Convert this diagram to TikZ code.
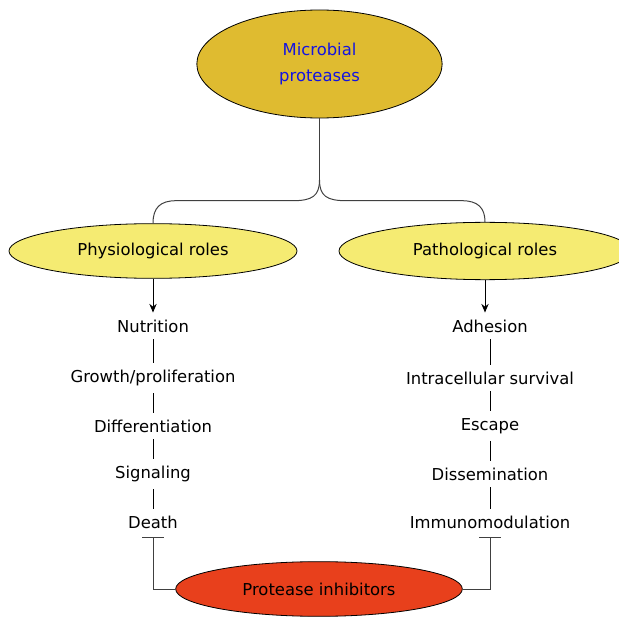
\documentclass[tikz,border=0pt]{standalone}
\usepackage{fontspec}
\setmainfont{DejaVu Sans}
\usepackage{xcolor}
\usepackage{tikz}
\usetikzlibrary{shapes,positioning,arrows.meta}
\definecolor{gold}{HTML}{DFBB30}
\definecolor{lemon}{HTML}{F5EB72}
\definecolor{brick}{HTML}{E8401C}
\definecolor{inkblue}{HTML}{1414E0}
\tikzset{ell/.style={ellipse,draw,line width=0.6pt,inner sep=0pt},
  item/.style={inner sep=5pt},
  link/.style={draw=black!75,line width=0.75pt}}

\begin{document}
\begin{tikzpicture}[>={Stealth[length=6.5pt,width=5.5pt]},line width=0.7pt,x=0.75pt,y=-0.75pt,font=\fontsize{12.3pt}{20pt}\selectfont]
    \useasboundingbox (0,0) rectangle (619,617);
    \node[ell,fill=gold,text=inkblue,align=center,minimum width=184pt,minimum height=81pt] (micro) at (319.5,64) {Microbial\\proteases};
    \node[ell,fill=lemon,minimum width=216pt,minimum height=41pt] (phys) at (153,251) {Physiological roles};
    \node[ell,fill=lemon,minimum width=219pt,minimum height=43pt] (path) at (485,251) {Pathological roles};
    \node[ell,fill=brick,minimum width=215pt,minimum height=41pt] (inhib) at (319,589) {Protease inhibitors};

    \node[item] (nutr) at (153,326) {Nutrition};
    \node[item] (grow) at (153,378) {Growth/proliferation};
    \node[item] (diff) at (153,426) {Differentiation};
    \node[item] (sign) at (153,474) {Signaling};
    \node[item] (death) at (153,522) {Death};

    \node[item] (adh) at (490,326) {Adhesion};
    \node[item] (intra) at (490,378) {Intracellular survival};
    \node[item] (esc) at (490,426) {Escape};
    \node[item] (diss) at (490,474) {Dissemination};
    \node[item] (immu) at (490,522) {Immunomodulation};

    \coordinate (tip) at (319.5,180);
    \coordinate (lbar) at (153,537);
    \coordinate (rbar) at (490,537);

    % brace
    \draw[link] (micro.south) -- (tip);
    \draw[link] (tip) .. controls (319.5,196) and (312,200.7) .. (293,200.7) -- (176,200.7) .. controls (160,200.7) and (153,208) .. (phys.north);
    \draw[link] (tip) .. controls (319.5,196) and (327,200.7) .. (346,200.7) -- (462,200.7) .. controls (478,200.7) and (485,208) .. (path.north);

    \draw [->] (phys) to (nutr);
    \draw [->] (path.south) to (path.south |- nutr.north);

    \draw [] (nutr) to (grow);
    \draw [] (grow) to (diff);
    \draw [] (diff) to (sign);
    \draw [] (sign) to (death);
    \draw [] (adh) to (intra);
    \draw [] (intra) to (esc);
    \draw [] (esc) to (diss);
    \draw [] (diss) to (immu);

    \draw [link,-{Bar[width=16pt]}] (inhib.west) -| (lbar);
    \draw [link,-{Bar[width=16pt]}] (inhib.east) -| (rbar);
\end{tikzpicture}
\end{document}
